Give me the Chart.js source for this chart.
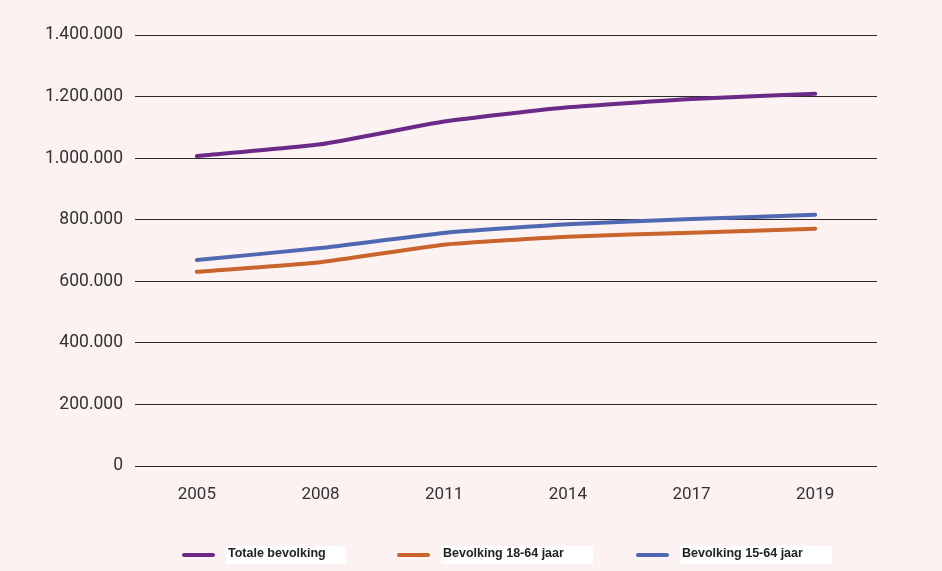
<!DOCTYPE html>
<html>
<head>
<meta charset="utf-8">
<script src="https://cdn.jsdelivr.net/npm/chart.js@4"></script>
<style>
  html, body { margin: 0; padding: 0; background: #fbf2f1; }
  #wrap { position: relative; width: 942px; height: 571px; }
  #legend { position: absolute; top: 545px; left: 0; width: 942px; height: 20px; }
  .item { position: absolute; top: 0; height: 20px; display: flex; align-items: center; }
  .swatch { width: 33px; height: 4px; border-radius: 2px; }
  .label { margin-left: 11px; background: #fff; height: 18px; line-height: 18px; padding: 0 0 0 2px;
           font: bold 12.5px "Liberation Sans", Arial, sans-serif; color: #222; }
</style>
</head>
<body>
<div id="wrap">
  <canvas id="chart" width="942" height="571"></canvas>
  <div id="legend"></div>
</div>
<script>
const years = ['2005', '2008', '2011', '2014', '2017', '2019'];
const seriesNames = ['Totale bevolking', 'Bevolking 18-64 jaar', 'Bevolking 15-64 jaar'];
const totale = [1007000, 1045000, 1119000, 1165000, 1192000, 1209000];
const bev1864 = [631000, 662000, 719000, 745000, 758000, 771000];
const bev1564 = [669000, 708000, 757000, 785000, 802000, 816000];
const colors = ['#6b2a88', '#c9652c', '#5068b2'];

// legend positions (left of swatch, width of white label box)
const legendPos = [[182, 118], [397, 150], [636, 150]];

const datasets = [totale, bev1864, bev1564].map((d, i) => ({
  label: seriesNames[i],
  data: d,
  borderColor: colors[i],
  backgroundColor: colors[i],
  borderWidth: 4,
  pointRadius: 0,
  tension: 0.15,
  borderCapStyle: 'round',
  borderJoinStyle: 'round'
}));

new Chart(document.getElementById('chart'), {
  type: 'line',
  data: { labels: years, datasets },
  options: {
    responsive: false,
    animation: false,
    layout: { padding: { top: 35, right: 65, left: 0, bottom: 0 } },
    plugins: { legend: { display: false }, tooltip: { enabled: false } },
    scales: {
      x: {
        offset: true,
        grid: { display: false, drawTicks: false },
        border: { display: false },
        ticks: { color: '#333', font: { family: 'Roboto', size: 17 }, padding: 19 },
        afterFit: (s) => { s.height = 105; }
      },
      y: {
        min: 0,
        max: 1400000,
        ticks: {
          stepSize: 200000,
          color: '#333',
          padding: 12,
          font: { family: 'Roboto', size: 17.5 },
          callback: (v) => v.toString().replace(/\B(?=(\d{3})+(?!\d))/g, '.')
        },
        grid: { color: '#2a2a2a', lineWidth: 1, drawTicks: false },
        border: { display: false },
        afterFit: (s) => { s.width = 135; }
      }
    }
  }
});

// html legend built from the series
const legend = document.getElementById('legend');
seriesNames.forEach((name, i) => {
  const item = document.createElement('div');
  item.className = 'item';
  item.style.left = legendPos[i][0] + 'px';
  item.innerHTML = '<div class="swatch" style="background:' + colors[i] + '"></div>' +
    '<div class="label" style="width:' + legendPos[i][1] + 'px">' + name + '</div>';
  legend.appendChild(item);
});
</script>
</body>
</html>
